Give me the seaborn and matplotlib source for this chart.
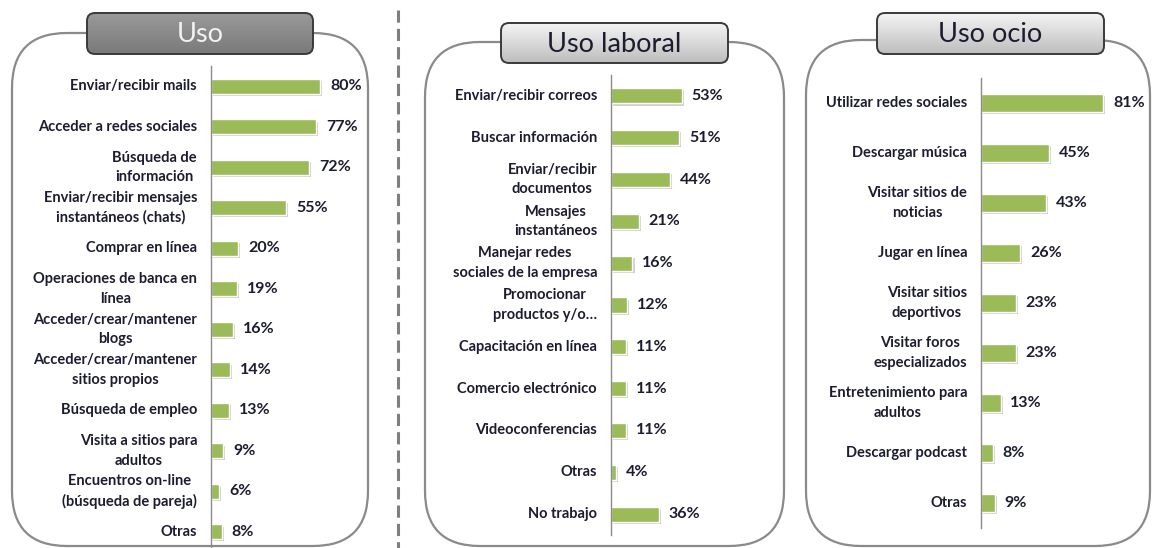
import numpy as np
import matplotlib
matplotlib.use("Agg")
import matplotlib.pyplot as plt
import matplotlib.patheffects as pe
from matplotlib.patches import FancyBboxPatch
from matplotlib.colors import LinearSegmentedColormap
import seaborn as sns

# --- DATA ---
uso_cats = ["Enviar/recibir mails", "Acceder a redes sociales", "Búsqueda de\ninformación",
            "Enviar/recibir mensajes\ninstantáneos (chats)", "Comprar en línea",
            "Operaciones de banca en\nlínea", "Acceder/crear/mantener\nblogs",
            "Acceder/crear/mantener\nsitios propios", "Búsqueda de empleo",
            "Visita a sitios para\nadultos", "Encuentros on-line\n(búsqueda de pareja)", "Otras"]
uso_vals = [80, 77, 72, 55, 20, 19, 16, 14, 13, 9, 6, 8]

laboral_cats = ["Enviar/recibir correos", "Buscar información", "Enviar/recibir\ndocumentos",
                "Mensajes\ninstantáneos", "Manejar redes\nsociales de la empresa",
                "Promocionar\nproductos y/o…", "Capacitación en línea", "Comercio electrónico",
                "Videoconferencias", "Otras", "No trabajo"]
laboral_vals = [53, 51, 44, 21, 16, 12, 11, 11, 11, 4, 36]

ocio_cats = ["Utilizar redes sociales", "Descargar música", "Visitar sitios de\nnoticias",
             "Jugar en línea", "Visitar sitios\ndeportivos", "Visitar foros\nespecializados",
             "Entretenimiento para\nadultos", "Descargar podcast", "Otras"]
ocio_vals = [81, 45, 43, 26, 23, 23, 13, 8, 9]

# --- THEME ---
sns.set_style("white")
plt.rcParams["font.family"] = ["Lato", "DejaVu Sans"]

GREEN = "#9BBB59"
TEXT = "#1c1c30"
BORDER = "#8a8a8a"
W, H = 1154, 548

fig = plt.figure(figsize=(W / 100, H / 100), dpi=100)

# background layer in pixel coordinates
bg = fig.add_axes([0, 0, 1, 1])
bg.set_xlim(0, W)
bg.set_ylim(H, 0)
bg.axis("off")

# rounded panel frames
for x0, y0, x1, y1 in [(12, 33, 368, 546), (425, 42, 784, 546), (806, 40, 1150, 546)]:
    bg.add_patch(FancyBboxPatch((x0, y0), x1 - x0, y1 - y0,
                                boxstyle="round,pad=0,rounding_size=55",
                                fc="white", ec=BORDER, lw=1.6, zorder=1))

# dashed separator
bg.plot([398, 398], [10, 548], color="#7f7f7f", lw=2.2, ls=(0, (4, 2)), zorder=1)

# title tabs
light = LinearSegmentedColormap.from_list("light", ["#f4f4f4", "#d9d9d9", "#bdbdbd"])
dark = LinearSegmentedColormap.from_list("dark", ["#9a9a9a", "#8a8a8a", "#7a7a7a"])
grad = np.linspace(0, 1, 64).reshape(-1, 1)
tabs = [("Uso", (87, 13, 313, 54), dark, "#f2f2f2"),
        ("Uso laboral", (501, 23, 728, 63), light, TEXT),
        ("Uso ocio", (877, 13, 1104, 54), light, TEXT)]
for title, (x0, y0, x1, y1), cmap, tcol in tabs:
    tab = FancyBboxPatch((x0, y0), x1 - x0, y1 - y0, boxstyle="round,pad=0,rounding_size=8",
                         fc="none", ec="#3a3a3a", lw=1.4, zorder=4)
    bg.add_patch(tab)
    im = bg.imshow(grad, extent=(x0, x1, y1, y0), cmap=cmap, aspect="auto",
                   origin="upper", zorder=3)
    im.set_clip_path(tab)
    bg.text((x0 + x1) / 2, (y0 + y1) / 2 + 1, title, ha="center", va="center",
            fontsize=19.5, color=tcol, zorder=5)
bg.set_xlim(0, W)
bg.set_ylim(H, 0)


def draw_panel(rect, cats, vals, xmax):
    x0, y0, x1, y1 = rect
    ax = fig.add_axes([x0 / W, 1 - y1 / H, (x1 - x0) / W, (y1 - y0) / H])
    ax.patch.set_alpha(0)
    sns.barplot(x=vals, y=cats, orient="h", color=GREEN, saturation=1, width=0.36, ax=ax)
    for bar in ax.patches:
        bar.set_path_effects([pe.SimplePatchShadow(offset=(1.5, -1.5), shadow_rgbFace="#8a8a8a",
                                                   alpha=0.4), pe.Normal()])
    ax.bar_label(ax.containers[0], fmt="%d%%", padding=7, fontsize=11.5,
                 fontweight="bold", color=TEXT)
    n = len(cats)
    ax.set_xlim(0, xmax)
    ax.set_ylim(n - 0.5, -0.5)
    ax.set_xticks([])
    ax.set_yticks(np.arange(-0.5, n), minor=True)
    ax.tick_params(axis="y", which="major", length=0, pad=10)
    ax.tick_params(axis="y", which="minor", length=5, width=1, color=BORDER, direction="out")
    for lab in ax.get_yticklabels():
        lab.set_fontsize(10.5)
        lab.set_fontweight("bold")
        lab.set_color(TEXT)
        lab.set_multialignment("center")
        lab.set_linespacing(1.5)
        lab.set_verticalalignment("center")
    ax.set_xlabel("")
    ax.set_ylabel("")
    sns.despine(ax=ax, top=True, right=True, bottom=True)
    ax.spines["left"].set_color(BORDER)
    ax.spines["left"].set_linewidth(1)
    return ax


draw_panel((211, 66, 365, 552), uso_cats, uso_vals, 154 / 1.366)
draw_panel((611, 75, 776, 535), laboral_cats, laboral_vals, 165 / 1.34)
draw_panel((981, 78, 1146, 528), ocio_cats, ocio_vals, 165 / 1.51)

plt.savefig("out.png", dpi=100)
